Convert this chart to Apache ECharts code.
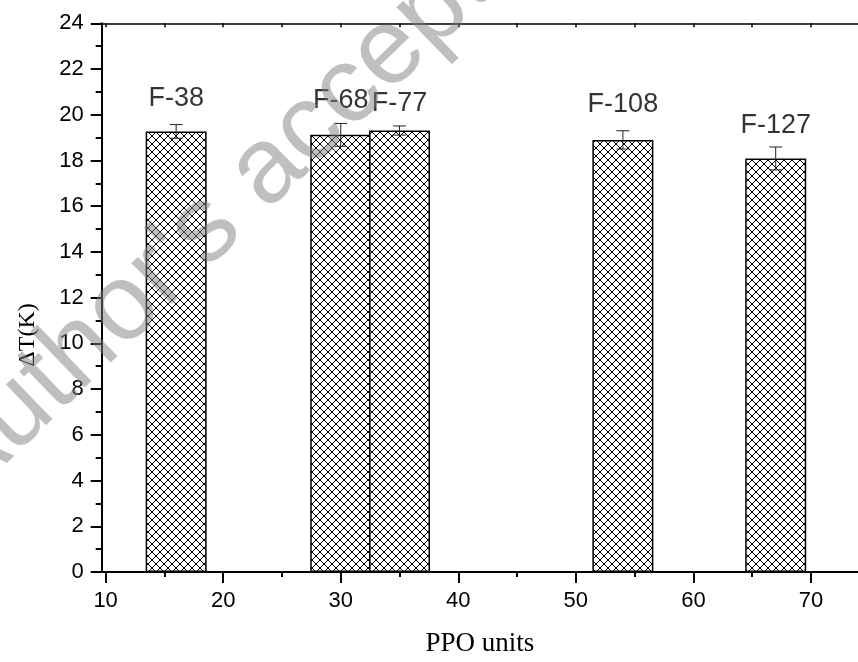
<!DOCTYPE html>
<html>
<head>
<meta charset="utf-8">
<script src="https://cdn.jsdelivr.net/npm/echarts@6/dist/echarts.min.js"></script>
<style>
html,body{margin:0;padding:0;background:#fff;}
#chart{width:858px;height:662px;}
</style>
</head>
<body>
<div id="chart"></div>
<script>
// ---- data ----
const names = ['F-38', 'F-68', 'F-77', 'F-108', 'F-127'];
const ppoUnits = [16, 30, 35, 54, 67];
const deltaT = [19.27, 19.12, 19.31, 18.9, 18.09];
const errors = [0.3, 0.5, 0.2, 0.4, 0.5];
const labelY = [20.71, 20.64, 20.51, 20.45, 19.52];
const xTickLabels = [10, 20, 30, 40, 50, 60, 70];
const xMinorTicks = [15, 25, 35, 45, 55, 65];
const xTopTicks = [10, 15, 20, 25, 30, 35, 40, 45, 50, 55, 60, 65, 70];

// ---- hatch pattern ----
const pc = document.createElement('canvas');
pc.width = 8; pc.height = 8;
const g = pc.getContext('2d');
g.fillStyle = '#fff'; g.fillRect(0, 0, 8, 8);
g.strokeStyle = '#000'; g.lineWidth = 1;
g.beginPath();
g.moveTo(-1, -1); g.lineTo(9, 9);
g.moveTo(9, -1); g.lineTo(-1, 9);
g.stroke();

const XMIN = 9.667, XMAX = 74;
const sans = 'Liberation Sans, Arial, sans-serif';
const serif = 'Liberation Serif, Times New Roman, serif';

const chart = echarts.init(document.getElementById('chart'), null, {renderer: 'canvas'});
chart.setOption({
  animation: false,
  backgroundColor: '#fff',
  grid: {left: 101.7, top: 23.3, right: -17.6, bottom: 84, containLabel: false},
  xAxis: [
    {
      type: 'value', min: XMIN, max: XMAX, position: 'bottom',
      name: 'PPO units', nameLocation: 'middle', nameGap: 58,
      nameTextStyle: {fontFamily: serif, fontSize: 27, color: '#000'},
      axisLine: {show: true, lineStyle: {color: '#000', width: 2}},
      axisTick: {show: true, customValues: xTickLabels, length: 11, lineStyle: {color: '#000', width: 2}},
      axisLabel: {show: true, customValues: xTickLabels, fontFamily: sans, fontSize: 22, color: '#000', margin: 18},
      splitLine: {show: false}
    },
    {
      type: 'value', min: XMIN, max: XMAX, position: 'bottom',
      axisLine: {show: false},
      axisTick: {show: true, customValues: xMinorTicks, length: 5, lineStyle: {color: '#000', width: 2}},
      axisLabel: {show: false},
      splitLine: {show: false}
    },
    {
      type: 'value', min: XMIN, max: XMAX, position: 'top',
      axisLine: {show: true, lineStyle: {color: '#000', width: 1.5}},
      axisTick: {show: true, inside: true, customValues: xTopTicks, length: 4, lineStyle: {color: '#000', width: 1.5}},
      axisLabel: {show: false},
      splitLine: {show: false}
    }
  ],
  yAxis: {
    type: 'value', min: 0, max: 24, interval: 2,
    axisLine: {show: true, lineStyle: {color: '#000', width: 2}},
    axisTick: {show: true, length: 11, lineStyle: {color: '#000', width: 2}},
    minorTick: {show: true, splitNumber: 2, length: 6, lineStyle: {color: '#000', width: 2}},
    axisLabel: {fontFamily: sans, fontSize: 22, color: '#000', margin: 18},
    splitLine: {show: false},
    minorSplitLine: {show: false}
  },
  graphic: [
    {
      type: 'text', x: 28, y: 335, rotation: Math.PI / 2, z: 10,
      style: {text: 'ΔT(K)', font: '24px ' + serif, fill: '#000', align: 'center', verticalAlign: 'middle'}
    },
    {
      type: 'text', x: -58, y: 484, rotation: 44 * Math.PI / 180, z: 100, silent: true,
      style: {text: "Author's accepted manuscript", font: '108px ' + sans, fill: 'rgba(128,128,128,0.5)', align: 'left', verticalAlign: 'middle'}
    }
  ],
  series: [
    {
      type: 'bar', xAxisIndex: 0,
      data: ppoUnits.map((x, i) => [x, deltaT[i]]),
      barWidth: 61,
      itemStyle: {color: {image: pc, repeat: 'repeat'}, borderColor: '#000', borderWidth: 1.5}
    },
    {
      type: 'custom', xAxisIndex: 0, z: 5,
      data: ppoUnits.map((x, i) => [x, deltaT[i], errors[i]]),
      renderItem: function (params, api) {
        const x = api.value(0), y = api.value(1), e = api.value(2);
        const t = api.coord([x, y + e]), b = api.coord([x, y - e]);
        const hw = 6.5;
        const st = {stroke: '#222', lineWidth: 1};
        return {type: 'group', children: [
          {type: 'line', shape: {x1: t[0], y1: t[1], x2: b[0], y2: b[1]}, style: st},
          {type: 'line', shape: {x1: t[0] - hw, y1: t[1], x2: t[0] + hw, y2: t[1]}, style: st},
          {type: 'line', shape: {x1: b[0] - hw, y1: b[1], x2: b[0] + hw, y2: b[1]}, style: st}
        ]};
      }
    },
    {
      type: 'scatter', xAxisIndex: 0, symbolSize: 0, z: 6,
      data: ppoUnits.map((x, i) => [x, labelY[i]]),
      label: {
        show: true, position: 'inside',
        formatter: p => names[p.dataIndex],
        fontFamily: sans, fontSize: 27, color: '#000'
      }
    }
  ]
});
</script>
</body>
</html>
